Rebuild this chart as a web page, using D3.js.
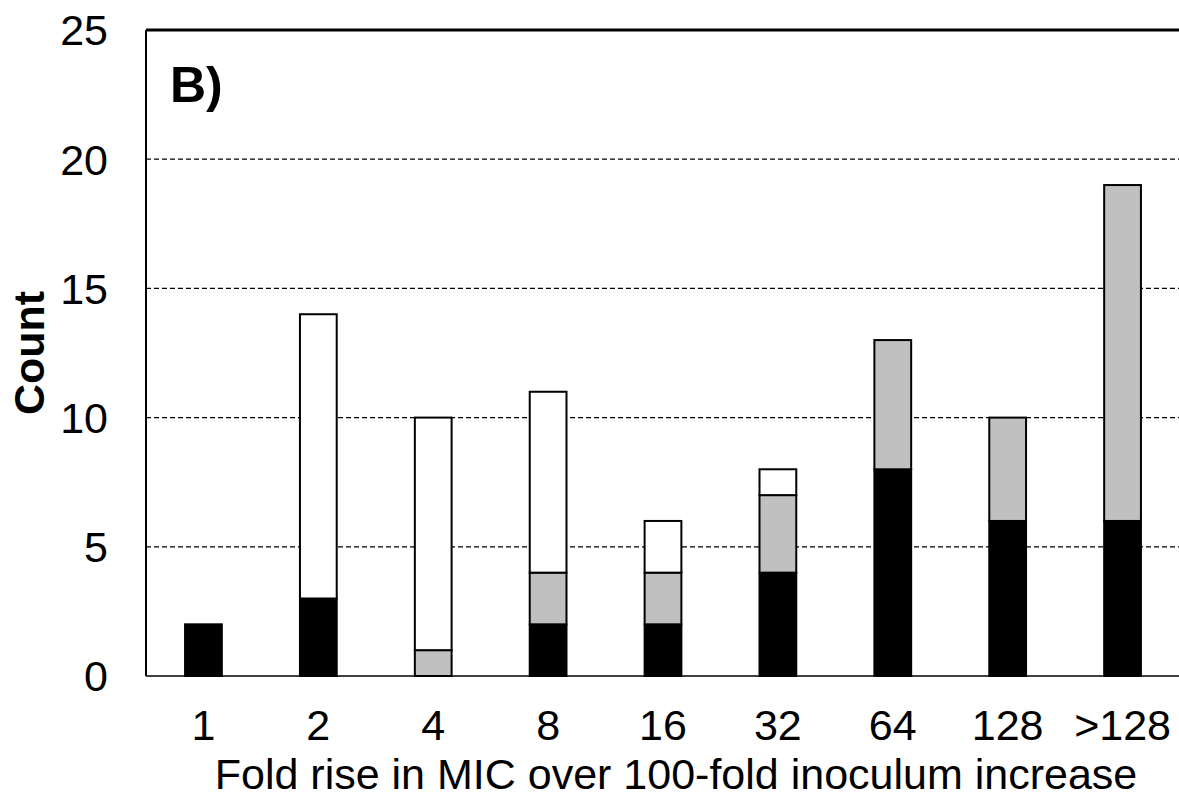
<!DOCTYPE html>
<html>
<head>
<meta charset="utf-8">
<script src="https://cdn.jsdelivr.net/npm/d3@7"></script>
<style>
  body { margin: 0; background: #fff; }
  svg { font-family: "Liberation Sans", Arial, sans-serif; }
</style>
</head>
<body>
<div id="chart"></div>
<script>
const categories = ['1', '2', '4', '8', '16', '32', '64', '128', '>128'];
const blackVals = [2, 3, 0, 2, 2, 4, 8, 6, 6];
const greyVals = [0, 0, 1, 2, 2, 3, 5, 4, 13];
const whiteVals = [0, 11, 9, 7, 2, 1, 0, 0, 0];
const yTicks = [0, 5, 10, 15, 20, 25];

const W = 1179, H = 799;
const margin = {top: 30, right: -1, bottom: 123, left: 146};
const width = W - margin.left - margin.right;
const height = H - margin.top - margin.bottom;

const svg = d3.select('#chart')
    .append('svg')
    .attr('width', W)
    .attr('height', H);

const g = svg.append('g')
    .attr('transform', `translate(${margin.left},${margin.top})`);

const x = d3.scaleBand()
    .domain(categories)
    .range([0, width])
    .paddingInner(0.68)
    .paddingOuter(0.34);

const y = d3.scaleLinear()
    .domain([0, 25])
    .range([height, 0]);

// dashed gridlines
g.selectAll('.grid')
    .data(yTicks.filter(t => t > 0 && t < 25))
    .enter()
    .append('line')
    .attr('class', 'grid')
    .attr('x1', 0)
    .attr('x2', width)
    .attr('y1', d => y(d))
    .attr('y2', d => y(d))
    .attr('stroke', '#000')
    .attr('stroke-width', 1.2)
    .attr('stroke-dasharray', '5,3');

// stacked bars
const table = categories.map((c, i) => ({cat: c, black: blackVals[i], grey: greyVals[i], white: whiteVals[i]}));
const stack = d3.stack().keys(['black', 'grey', 'white'])(table);
const fills = {black: '#000', grey: '#c0c0c0', white: '#fff'};

stack.forEach(layer => {
    g.selectAll('.bar-' + layer.key)
        .data(layer.filter(d => d[1] > d[0]))
        .enter()
        .append('rect')
        .attr('x', d => x(d.data.cat))
        .attr('y', d => y(d[1]))
        .attr('width', x.bandwidth())
        .attr('height', d => y(d[0]) - y(d[1]))
        .attr('fill', fills[layer.key])
        .attr('stroke', '#000')
        .attr('stroke-width', 2);
});

// frame: left and top borders, bottom axis line
g.append('line').attr('x1', 0).attr('x2', 0).attr('y1', 0).attr('y2', height)
    .attr('stroke', '#000').attr('stroke-width', 2);
g.append('line').attr('x1', 0).attr('x2', width).attr('y1', 0).attr('y2', 0)
    .attr('stroke', '#000').attr('stroke-width', 3);
g.append('line').attr('x1', 0).attr('x2', width).attr('y1', height).attr('y2', height)
    .attr('stroke', '#000').attr('stroke-width', 1.5);

// y tick labels
g.selectAll('.ylab')
    .data(yTicks)
    .enter()
    .append('text')
    .attr('x', -38)
    .attr('y', d => y(d))
    .attr('dy', '0.36em')
    .attr('text-anchor', 'end')
    .attr('font-size', 43)
    .text(d => d);

// x tick labels
g.selectAll('.xlab')
    .data(categories)
    .enter()
    .append('text')
    .attr('x', d => x(d) + x.bandwidth() / 2)
    .attr('y', height + 64)
    .attr('text-anchor', 'middle')
    .attr('font-size', 43)
    .text(d => d);

// axis titles
svg.append('text')
    .attr('x', 676)
    .attr('y', 789)
    .attr('text-anchor', 'middle')
    .attr('font-size', 43)
    .text('Fold rise in MIC over 100-fold inoculum increase');

svg.append('text')
    .attr('transform', 'translate(44,353) rotate(-90)')
    .attr('text-anchor', 'middle')
    .attr('font-size', 43)
    .attr('font-weight', 'bold')
    .text('Count');

svg.append('text')
    .attr('x', 170)
    .attr('y', 102)
    .attr('font-size', 50)
    .attr('font-weight', 'bold')
    .text('B)');
</script>
</body>
</html>
